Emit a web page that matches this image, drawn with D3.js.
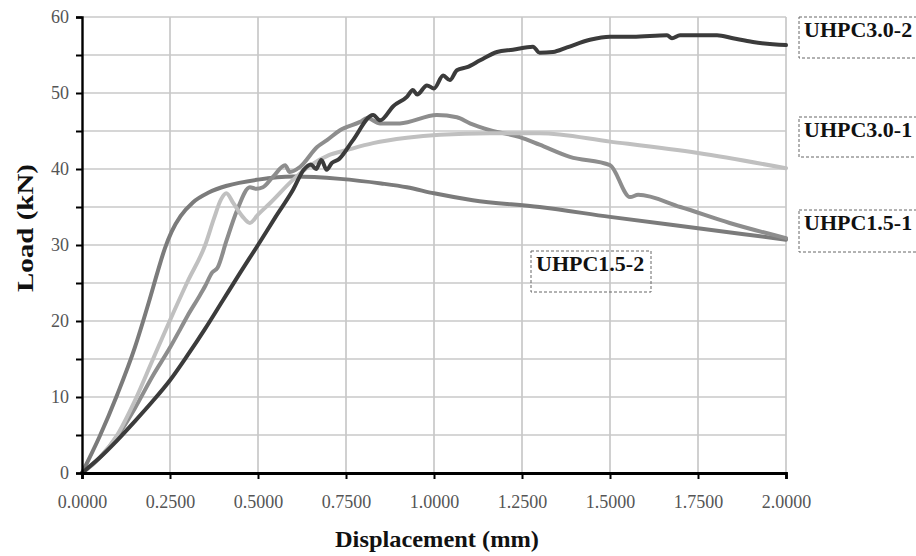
<!DOCTYPE html>
<html>
<head>
<meta charset="utf-8">
<script src="https://cdn.jsdelivr.net/npm/d3@7"></script>
<style>
  html, body { margin: 0; padding: 0; background: #fff; }
  svg { display: block; }
</style>
</head>
<body>
<svg id="chart" width="916" height="556"></svg>
<script>
// ---- data (displacement mm, load kN) ----
const seriesNames = ["UHPC1.5-2", "UHPC1.5-1", "UHPC3.0-1", "UHPC3.0-2"];
const xTicks = [0, 0.25, 0.5, 0.75, 1.0, 1.25, 1.5, 1.75, 2.0];
const yTicks = [0, 5, 10, 15, 20, 25, 30, 35, 40, 45, 50, 55, 60];

const uhpc15_2 = [[0,0],[0.05,4.8],[0.1,10.3],[0.15,16.5],[0.19,22.5],[0.215,26.5],[0.235,29.5],[0.255,31.8],[0.28,33.8],[0.315,35.6],[0.36,36.9],[0.412,37.8],[0.5,38.6],[0.6,39.0],[0.733,38.7],[0.85,38.1],[0.923,37.6],[1.0,36.8],[1.11,35.9],[1.3,35.0],[1.5,33.7],[1.75,32.2],[2.0,30.7]];

const uhpc15_1 = [[0,0],[0.05,2.0],[0.1,4.8],[0.15,8.5],[0.2,12.7],[0.25,16.5],[0.28,19],[0.3,20.7],[0.33,23],[0.35,24.6],[0.37,26.4],[0.385,27],[0.41,30.5],[0.44,34.5],[0.477,37.6],[0.495,37.4],[0.514,37.6],[0.543,39.0],[0.577,40.5],[0.59,39.6],[0.62,40.3],[0.668,42.9],[0.696,43.8],[0.733,45.1],[0.79,46.2],[0.81,46.7],[0.847,46.0],[0.903,46.0],[1.008,47.1],[1.065,46.8],[1.102,46.0],[1.159,45.1],[1.244,44.2],[1.30,43.2],[1.386,41.6],[1.5,40.5],[1.557,36.3],[1.58,36.6],[1.7,35.0],[1.84,32.9],[2.0,30.9]];

const uhpc30_1 = [[0,0],[0.05,2.0],[0.1,5.0],[0.15,9.5],[0.2,14.8],[0.25,20.1],[0.3,25.2],[0.35,30.0],[0.375,33.5],[0.395,36.0],[0.41,36.8],[0.43,35.5],[0.455,33.8],[0.477,32.9],[0.5,34.0],[0.534,35.5],[0.6,38.6],[0.65,40.5],[0.7,41.8],[0.753,42.5],[0.827,43.4],[0.923,44.1],[1.017,44.5],[1.159,44.7],[1.3,44.7],[1.5,43.6],[1.75,42.1],[2.0,40.1]];

const uhpc30_2 = [[0,0],[0.05,2.0],[0.1,4.3],[0.15,6.8],[0.2,9.4],[0.25,12.2],[0.3,15.5],[0.35,19],[0.4,22.7],[0.45,26.4],[0.5,30],[0.55,33.7],[0.6,37.3],[0.63,39.9],[0.65,40.6],[0.665,40.0],[0.68,41.2],[0.695,39.9],[0.71,40.8],[0.73,41.3],[0.77,43.8],[0.827,47.1],[0.847,46.4],[0.885,48.3],[0.923,49.5],[0.94,50.4],[0.952,49.8],[0.98,51.0],[1.0,50.6],[1.026,52.3],[1.045,51.7],[1.065,53.0],[1.094,53.4],[1.131,54.3],[1.179,55.4],[1.224,55.7],[1.281,56.1],[1.30,55.3],[1.338,55.4],[1.378,56.0],[1.443,57.0],[1.5,57.4],[1.565,57.4],[1.662,57.6],[1.676,57.2],[1.699,57.6],[1.756,57.6],[1.804,57.6],[1.849,57.2],[1.906,56.7],[2.0,56.3]];

const seriesData = [uhpc15_2, uhpc15_1, uhpc30_1, uhpc30_2];
const seriesColors = ["#7b7b7b", "#8d8d8d", "#c0c0c0", "#3b3b3b"];

// ---- layout ----
const svg = d3.select("#chart");
const plotL = 82, plotR = 786, plotT = 17, plotB = 473;
const x = d3.scaleLinear().domain([0, 2]).range([plotL, plotR]);
const y = d3.scaleLinear().domain([0, 60]).range([plotB, plotT]);
const serif = "'Liberation Serif', 'Times New Roman', serif";

// gridlines
const grid = svg.append("g");
grid.selectAll("line.h").data(yTicks.filter(d => d > 0)).join("line")
  .attr("class", "h")
  .attr("x1", plotL).attr("x2", plotR)
  .attr("y1", d => y(d)).attr("y2", d => y(d))
  .attr("stroke", "#c8c8c8").attr("stroke-width", 1.7);
grid.selectAll("line.v").data(xTicks.filter(d => d > 0)).join("line")
  .attr("class", "v")
  .attr("y1", plotT).attr("y2", plotB)
  .attr("x1", d => x(d)).attr("x2", d => x(d))
  .attr("stroke", "#c8c8c8").attr("stroke-width", 1.7);

// series lines
const line = d3.line().curve(d3.curveMonotoneX).x(d => x(d[0])).y(d => y(d[1]));
svg.append("g").selectAll("path").data(seriesData).join("path")
  .attr("d", line)
  .attr("fill", "none")
  .attr("stroke", (d, i) => seriesColors[i])
  .attr("stroke-width", 4)
  .attr("stroke-linejoin", "round")
  .attr("stroke-linecap", "round");

// axes
const yAxis = d3.axisLeft(y).tickValues(yTicks).tickSize(6).tickPadding(7)
  .tickFormat(d => d % 10 === 0 ? d : "");
const gy = svg.append("g").attr("transform", `translate(${plotL},0)`).call(yAxis);
gy.select(".domain").attr("stroke", "#000").attr("stroke-width", 2.4);
gy.selectAll(".tick line").attr("stroke", "#000").attr("stroke-width", 2);
gy.selectAll(".tick text").attr("font-family", serif).attr("font-size", 18).attr("fill", "#555");

const xAxis = d3.axisBottom(x).tickValues(xTicks).tickSize(6).tickPadding(16)
  .tickFormat(d3.format(".4f"));
const gx = svg.append("g").attr("transform", `translate(0,${plotB})`).call(xAxis);
gx.select(".domain").attr("stroke", "#000").attr("stroke-width", 2.8);
gx.selectAll(".tick line").attr("stroke", "#000").attr("stroke-width", 2);
gx.selectAll(".tick text").attr("font-family", serif).attr("font-size", 18).attr("fill", "#555");

// axis titles
svg.append("text")
  .attr("x", 437).attr("y", 547)
  .attr("text-anchor", "middle")
  .attr("font-family", serif).attr("font-weight", "bold").attr("font-size", 24)
  .attr("fill", "#111")
  .attr("textLength", 204).attr("lengthAdjust", "spacingAndGlyphs")
  .text("Displacement (mm)");
svg.append("text")
  .attr("transform", "translate(33,228) rotate(-90)")
  .attr("text-anchor", "middle")
  .attr("font-family", serif).attr("font-weight", "bold").attr("font-size", 24)
  .attr("fill", "#111")
  .attr("textLength", 128).attr("lengthAdjust", "spacingAndGlyphs")
  .text("Load (kN)");

// labels
const labelNames = ["UHPC3.0-2", "UHPC3.0-1", "UHPC1.5-1", "UHPC1.5-2"];
const labelBoxes = [[799, 17, 125, 41], [799, 117, 125, 40], [799, 210, 125, 42], [531, 251, 120, 41]];
const lg = svg.append("g");
labelBoxes.forEach((b, i) => {
  lg.append("rect")
    .attr("x", b[0]).attr("y", b[1]).attr("width", b[2]).attr("height", b[3])
    .attr("fill", "none").attr("stroke", "#666").attr("stroke-width", 1)
    .attr("stroke-dasharray", "3,2");
  lg.append("text")
    .attr("x", b[0] + 5).attr("y", b[1] + 20)
    .attr("font-family", serif).attr("font-weight", "bold").attr("font-size", 22)
    .attr("fill", "#111")
    .text(labelNames[i]);
});
</script>
</body>
</html>
